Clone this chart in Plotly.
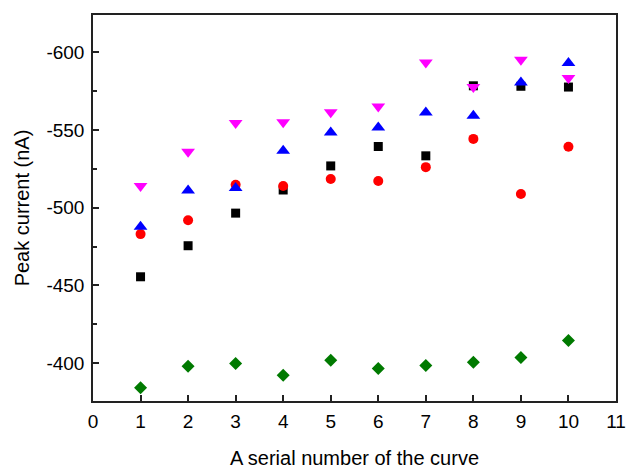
import plotly.graph_objects as go

x_serial = [1, 2, 3, 4, 5, 6, 7, 8, 9, 10]

black_squares = [-455.5, -475.5, -496.5, -511.4, -526.9, -539.4, -533.4, -578.5, -578.2, -577.7]
red_circles = [-483.0, -491.9, -514.8, -514.0, -518.5, -517.2, -526.1, -544.3, -508.8, -539.2]
blue_up = [-487.7, -511.0, -512.7, -536.6, -548.4, -551.6, -561.3, -559.2, -580.6, -593.2]
magenta_down = [-514.0, -536.0, -554.5, -555.1, -561.5, -565.2, -593.5, -577.7, -595.3, -583.5]
green_diamonds = [-384.0, -397.9, -399.6, -392.1, -401.7, -396.4, -398.3, -400.5, -403.5, -414.5]

x_ticks = [0, 1, 2, 3, 4, 5, 6, 7, 8, 9, 10, 11]
y_ticks = [-600, -550, -500, -450, -400]
y_tick_labels = ["-600", "-550", "-500", "-450", "-400"]
y_minor_ticks = [-575, -525, -475, -425]

FONT = "Liberation Sans, Arial, sans-serif"

series = [
    (black_squares, "square", "#000000", 9),
    (red_circles, "circle", "#ff0000", 10),
    (blue_up, "triangle-up", "#0000ff", 12),
    (magenta_down, "triangle-down", "#ff00ff", 12),
    (green_diamonds, "diamond", "#007a00", 10),
]

fig = go.Figure()
for vals, sym, col, sz in series:
    fig.add_trace(go.Scatter(
        x=x_serial, y=vals, mode="markers",
        marker=dict(symbol=sym, color=col, size=sz, line=dict(width=0)),
        showlegend=False,
    ))

axis_common = dict(
    showgrid=False, zeroline=False,
    showline=True, linecolor="#222222", linewidth=1.5, mirror=True,
    ticks="inside", tickcolor="#222222", tickwidth=1.5, ticklen=6,
    tickfont=dict(family=FONT, size=19, color="#000000"),
)

fig.update_xaxes(
    range=[0, 11], tickmode="array", tickvals=x_ticks,
    title=dict(text="A serial number of the curve",
               font=dict(family=FONT, size=20, color="#000000"), standoff=24),
    ticklabelstandoff=2,
    **axis_common,
)
fig.update_yaxes(
    range=[-375.5, -624.1], tickmode="array", tickvals=y_ticks, ticktext=y_tick_labels,
    minor=dict(tickvals=y_minor_ticks, ticks="inside", ticklen=4, tickcolor="#222222", tickwidth=1.5),
    title=dict(text="Peak current (nA)",
               font=dict(family=FONT, size=20, color="#000000"), standoff=11),
    ticklabelstandoff=3,
    **axis_common,
)

fig.update_layout(
    width=627, height=469,
    margin=dict(l=93, r=11, t=15, b=68, autoexpand=False),
    paper_bgcolor="#ffffff", plot_bgcolor="#ffffff",
    font=dict(family=FONT),
)

fig.write_html(
    "out.html",
    config={"displayModeBar": False},
    post_script="document.body.style.margin='0';document.body.style.overflow='hidden';",
)
